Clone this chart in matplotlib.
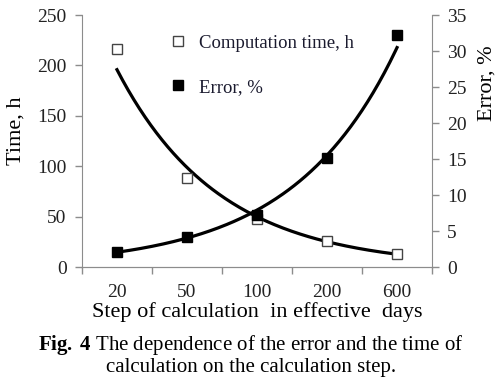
import numpy as np
import matplotlib.pyplot as plt
from matplotlib.lines import Line2D

# step of calculation, effective days (categorical axis)
steps = ["20", "50", "100", "200", "600"]
time_h = [216, 88, 48, 26, 13]
error_pct = [2.1, 4.2, 7.2, 15.1, 32.3]

plt.rcParams["font.family"] = ["Liberation Serif", "DejaVu Serif"]
plt.rcParams["mathtext.fontset"] = "custom"
plt.rcParams["mathtext.rm"] = "Liberation Serif"
plt.rcParams["mathtext.bf"] = "Liberation Serif:bold"
GREY = "#8c8c8c"

fig = plt.figure(figsize=(5.02, 3.87), dpi=100)
ax = fig.add_axes([0.1633, 0.31, 0.6973, 0.651])
ax2 = ax.twinx()

x = np.arange(len(steps))
xs = np.linspace(0, len(steps) - 1, 200)

# exponential trend lines as in the spreadsheet original
b_t, a_t = np.polyfit(x, np.log(time_h), 1)
b_e, a_e = np.polyfit(x, np.log(error_pct), 1)

ax.plot(xs, np.exp(a_t + b_t * xs), color="black", lw=2.3, zorder=2)
ax.plot(x, time_h, ls="none", marker="s", ms=6.5, mfc="white",
        mec="#444444", mew=1.0, zorder=3)
ax2.plot(xs, np.exp(a_e + b_e * xs), color="black", lw=2.3, zorder=2)
ax2.plot(x, error_pct, ls="none", marker="s", ms=6.5, mfc="black",
         mec="black", zorder=3)

ax.set_xlim(-0.5, len(steps) - 0.5)
ax.set_ylim(0, 250)
ax2.set_ylim(0, 35)
ax.set_yticks(range(0, 251, 50))
ax2.set_yticks(range(0, 36, 5))
ax.set_xticks(x)
ax.set_xticklabels(steps)
ax.set_xticks(np.arange(-0.5, len(steps), 1.0), minor=True)

for a in (ax, ax2):
    for side in a.spines:
        a.spines[side].set_color(GREY)
    a.spines["top"].set_visible(False)
ax.spines["right"].set_visible(False)
ax2.spines["left"].set_visible(False)

ax.tick_params(axis="y", colors=GREY, labelcolor="#222222", labelsize=14,
               length=5, width=1, pad=6)
ax2.tick_params(axis="y", colors=GREY, labelcolor="#222222", labelsize=14,
                length=5, width=1, pad=6)
ax.tick_params(axis="x", which="major", length=0, labelsize=14,
               labelcolor="#222222", pad=12)
ax.tick_params(axis="x", which="minor", length=5, width=1, color=GREY)

ax.set_ylabel("Time, h", fontsize=16)
ax.yaxis.set_label_coords(-0.16, 0.54)
ax2.set_ylabel("Error, %", fontsize=16, rotation=90)
ax2.yaxis.set_label_coords(1.13, 0.73)
ax.set_xlabel("Step of calculation  in effective  days", fontsize=16, labelpad=1)

handles = [
    Line2D([], [], ls="none", marker="s", ms=6.5, mfc="white", mec="#444444"),
    Line2D([], [], ls="none", marker="s", ms=6.5, mfc="black", mec="black"),
]
ax.legend(handles, ["Computation time, h", "Error, %"], loc="upper left",
          bbox_to_anchor=(0.2, 0.99), frameon=False, fontsize=13.5,
          labelspacing=1.45, handlelength=1.0, handletextpad=0.6,
          labelcolor="#1a1a2e")

fig.text(0.5, 0.108, r"$\mathbf{Fig.\,4}$ The dependence of the error and the time of",
         ha="center", va="center", fontsize=15)
fig.text(0.5, 0.05, "calculation on the calculation step.",
         ha="center", va="center", fontsize=15)

fig.savefig("out.png", dpi=100)
